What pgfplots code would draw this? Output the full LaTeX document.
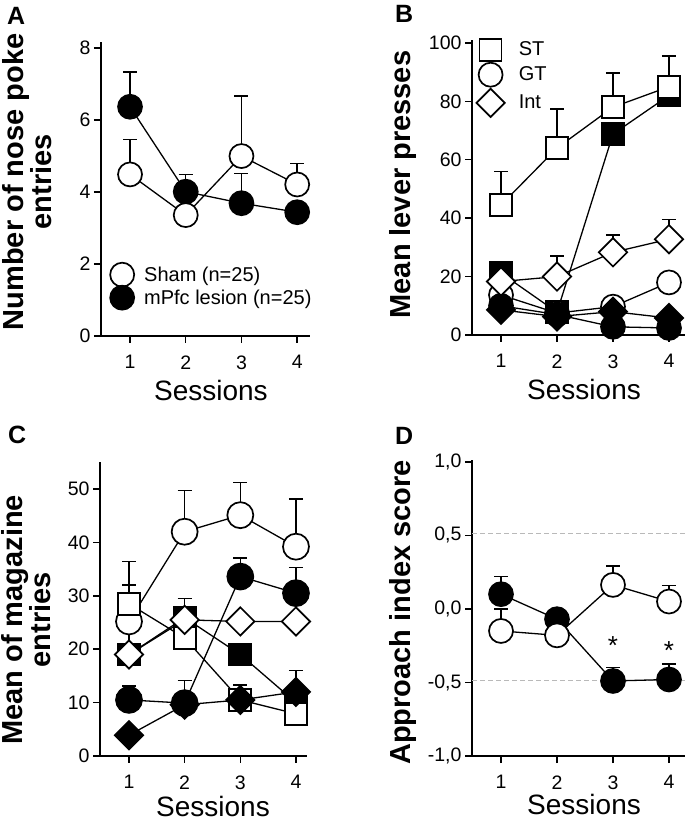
\documentclass[border=0pt]{standalone}
\usepackage{fontspec}
\setmainfont{Liberation Sans}
\usepackage{pgfplots}
\pgfplotsset{compat=1.18}
\pgfplotsset{
  panel/.style={
    scale only axis,
    axis x line*=bottom, axis y line*=left,
    axis line style={line width=2pt, black},
    tick align=outside, major tick length=7pt,
    every tick/.style={line width=1.5pt, black},
    xtick={1,2,3,4},
    /pgf/number format/assume math mode=true,
    tick label style={font=\fontsize{19.5}{22}\selectfont},
    xticklabel style={yshift=-9pt},
    xlabel=Sessions,
    xlabel style={font=\fontsize{28}{30}\selectfont, anchor=base},
    ylabel style={font=\bfseries\fontsize{29}{25}\selectfont, anchor=center, align=center},
    clip=false,
    legend image code/.code={\draw[##1] plot coordinates {(0pt,0pt)};},
  },
  sline/.style={black, line width=1.3pt},
  ocirc/.style={sline, mark=*, mark size=12pt, mark options={fill=white, draw=black, line width=1.7pt, solid}},
  fcirc/.style={sline, mark=*, mark size=12pt, mark options={fill=black, draw=black, line width=1.7pt, solid}},
  osq/.style={sline, mark=square*, mark size=11pt, mark options={fill=white, draw=black, line width=1.7pt, solid}},
  fsq/.style={sline, mark=square*, mark size=11pt, mark options={fill=black, draw=black, line width=1.7pt, solid}},
  odia/.style={sline, mark=square*, mark size=10pt, mark options={rotate=45, fill=white, draw=black, line width=1.7pt, solid}},
  fdia/.style={sline, mark=square*, mark size=10pt, mark options={rotate=45, fill=black, draw=black, line width=1.7pt, solid}},
  errs/.style={error bars/y dir=plus, error bars/y explicit,
    error bars/error bar style={line width=1.5pt, black},
    error bars/error mark options={rotate=90, mark size=7pt, line width=1.5pt, black}},
}
\begin{document}
\begin{tikzpicture}
\path[use as bounding box] (0pt,0pt) rectangle (685pt,824pt);
% panel letters
\node[anchor=base west, inner sep=0pt, font=\bfseries\fontsize{25}{25}\selectfont] at (7pt,799pt) {A};
\node[anchor=base west, inner sep=0pt, font=\bfseries\fontsize{25}{25}\selectfont] at (395pt,801pt) {B};
\node[anchor=base west, inner sep=0pt, font=\bfseries\fontsize{25}{25}\selectfont] at (8pt,380pt) {C};
\node[anchor=base west, inner sep=0pt, font=\bfseries\fontsize{25}{25}\selectfont] at (395pt,379pt) {D};

% ---------------- A ----------------
\begin{axis}[panel, at={(101pt,488pt)}, anchor=south west, width=209pt, height=294pt,
  xmin=0.479, xmax=4.23, ymin=0, ymax=8.17, ytick={0,2,4,6,8},
  ylabel={Number of nose poke\\entries},
  ylabel style={at={(axis description cs:-0.352,0.524)}},
  xlabel style={at={(axis description cs:0.526,-0.218)}},
  legend style={draw=none, fill=none, at={(axis description cs:0.043,0.25)}, anchor=north west,
    legend cell align=left, font=\fontsize{20}{22}\selectfont, inner sep=0pt, row sep=-1pt,
    nodes={inner sep=2pt}, /tikz/every odd column/.append style={column sep=8pt}}]
\addplot[fcirc, errs, forget plot] coordinates {(1,6.37) +- (0,0.97) (2,4.01) +- (0,0.48) (3,3.69) +- (0,0.83) (4,3.44) +- (0,0.15)};
\addplot[ocirc, errs, forget plot] coordinates {(1,4.49) +- (0,0.97) (2,3.36) +- (0,0) (3,5.0) +- (0,1.67) (4,4.21) +- (0,0.59)};
\addlegendimage{ocirc, only marks}
\addlegendentry{Sham (n=25)}
\addlegendimage{fcirc, only marks}
\addlegendentry{mPfc lesion (n=25)}
\end{axis}

% ---------------- B ----------------
\begin{axis}[panel, at={(472pt,489pt)}, anchor=south west, width=213pt, height=295pt,
  xmin=0.482, xmax=4.286, ymin=0, ymax=101, ytick={0,20,40,60,80,100},
  ylabel={Mean lever presses},
  ylabel style={at={(axis description cs:-0.324,0.51)}},
  xlabel style={at={(axis description cs:0.526,-0.22)}},
  legend style={draw=none, fill=none, at={(axis description cs:0.02,1.005)}, anchor=north west,
    legend cell align=left, font=\fontsize{20}{22}\selectfont, inner sep=0pt, row sep=2pt,
    nodes={inner sep=2pt}, /tikz/every odd column/.append style={column sep=12pt}}]
\addplot[fsq, errs, forget plot] coordinates {(1,21.2) +- (0,0) (2,7.8) +- (0,0) (3,68.8) +- (0,0) (4,82) +- (0,0)};
\addplot[osq, errs, forget plot] coordinates {(1,44.5) +- (0,11.5) (2,64) +- (0,13.3) (3,78) +- (0,11.7) (4,85) +- (0,10.6)};
\addplot[ocirc, forget plot] coordinates {(1,13.7) (2,7.5) (3,9.7) (4,18)};
\addplot[fcirc, forget plot] coordinates {(1,10) (2,7) (3,2.8) (4,2.4)};
\addplot[fdia, forget plot] coordinates {(1,8.6) (2,6.3) (3,8) (4,5.8)};
\addplot[odia, errs, forget plot] coordinates {(1,18.3) +- (0,0) (2,20) +- (0,7) (3,28.3) +- (0,5.9) (4,32.8) +- (0,6.8)};
\addlegendimage{osq, only marks}
\addlegendentry{ST}
\addlegendimage{ocirc, only marks}
\addlegendentry{GT}
\addlegendimage{odia, only marks}
\addlegendentry{Int}
\end{axis}

% ---------------- C ----------------
\begin{axis}[panel, at={(100pt,68pt)}, anchor=south west, width=207pt, height=294pt,
  xmin=0.479, xmax=4.198, ymin=0, ymax=55.06, ytick={0,10,20,30,40,50},
  ylabel={Mean of magazine\\entries},
  ylabel style={at={(axis description cs:-0.356,0.463)}},
  xlabel style={at={(axis description cs:0.546,-0.207)}}]
\addplot[fsq, errs] coordinates {(1,19) +- (0,6) (2,25.9) +- (0,3.6) (3,19) +- (0,0) (4,10) +- (0,0)};
\addplot[ocirc, mark size=13pt, errs] coordinates {(1,25.2) +- (0,6.8) (2,42) +- (0,7.7) (3,45.1) +- (0,6.1) (4,39.2) +- (0,8.9)};
\addplot[osq, errs] coordinates {(1,28.5) +- (0,7.9) (2,22.1) +- (0,0) (3,10.5) +- (0,2.8) (4,7.9) +- (0,0)};
\addplot[fcirc, mark size=13pt, errs] coordinates {(1,10.5) +- (0,2.6) (2,9.9) +- (0,4.2) (3,33.6) +- (0,3.5) (4,30.5) +- (0,4.8)};
\addplot[odia] coordinates {(1,19) (2,25.5) (3,25.2) (4,25.2)};
\addplot[fdia, errs] coordinates {(1,3.9) +- (0,0) (2,9.6) +- (0,0) (3,10.5) +- (0,0) (4,12) +- (0,4)};
\end{axis}

% ---------------- D ----------------
\begin{axis}[panel, at={(472pt,68pt)}, anchor=south west, width=213pt, height=296pt,
  xmin=0.482, xmax=4.286, ymin=-1, ymax=1.012, ytick={-1,-0.5,0,0.5,1},
  yticklabels={{-1,0},{-0,5},{0,0},{0,5},{1,0}},
  ylabel={Approach index score},
  ylabel style={at={(axis description cs:-0.324,0.485)}},
  xlabel style={at={(axis description cs:0.526,-0.197)}}]
\addplot[gray!55, dash pattern=on 5pt off 3pt, line width=0.9pt] coordinates {(0.482,0.515) (4.286,0.515)};
\addplot[gray!55, dash pattern=on 5pt off 3pt, line width=0.9pt] coordinates {(0.482,-0.488) (4.286,-0.488)};
\addplot[fcirc, errs] coordinates {(1,0.10) +- (0,0.12) (2,-0.07) +- (0,0.06) (3,-0.49) +- (0,0.09) (4,-0.48) +- (0,0.105)};
\addplot[ocirc, errs] coordinates {(1,-0.15) +- (0,0.15) (2,-0.18) +- (0,0) (3,0.163) +- (0,0.127) (4,0.05) +- (0,0.11)};
\node[font=\fontsize{26}{26}\selectfont] at (axis cs:3,-0.25) {*};
\node[font=\fontsize{26}{26}\selectfont] at (axis cs:4,-0.28) {*};
\end{axis}
\end{tikzpicture}
\end{document}
